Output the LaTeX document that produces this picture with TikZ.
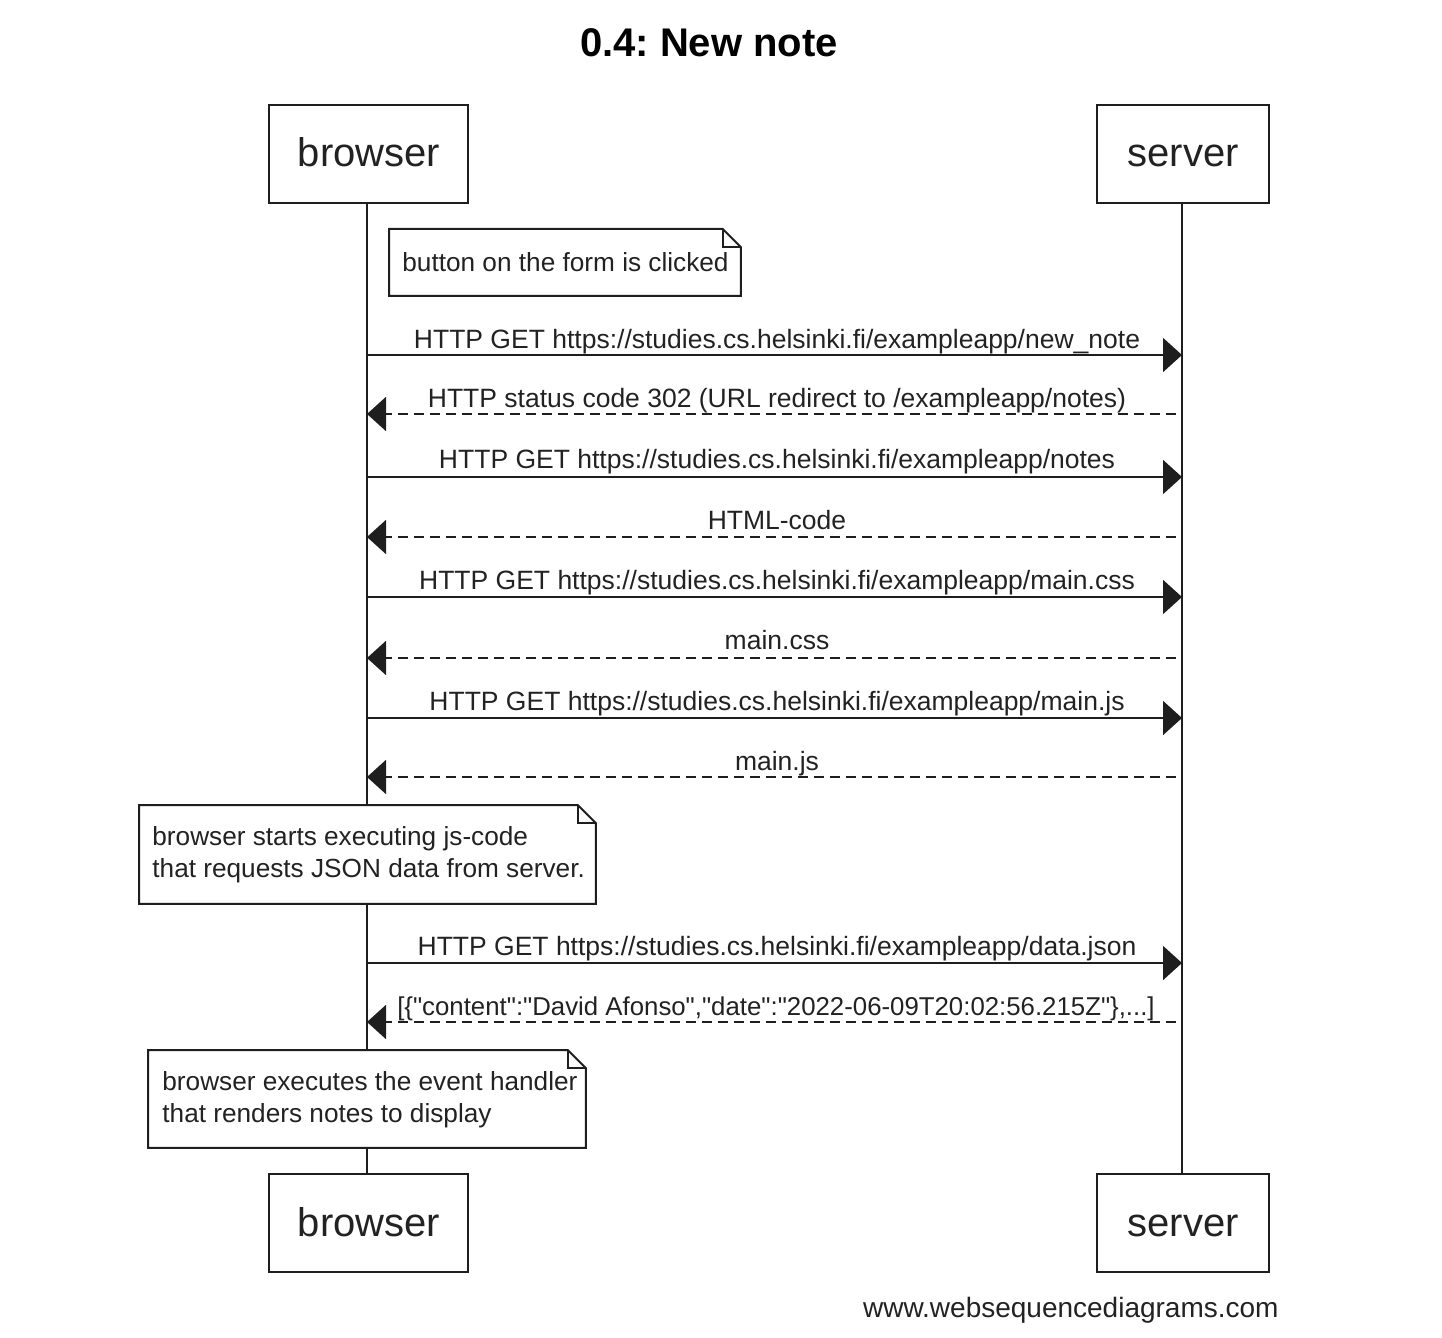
\documentclass[tikz,border=0pt]{standalone}
\usepackage{fontspec}
\setmainfont{Liberation Sans}[Mapping=]
\usetikzlibrary{arrows.meta}
\frenchspacing
\definecolor{ink}{RGB}{34,34,34}
\definecolor{linec}{RGB}{30,30,30}
\newcommand{\dq}{\symbol{34}}
\tikzset{
  actor/.style={draw=linec, line width=1pt, fill=white, minimum width=#1, minimum height=49pt, inner sep=0pt},
  actortext/.style={anchor=base, text=ink, font=\fontsize{20}{24}\selectfont, inner sep=0pt},
  lifeline/.style={draw=linec, line width=1pt},
  msg/.style={draw=linec, line width=0.9pt, -{Triangle[length=9.5pt, width=17pt]}},
  reply/.style={msg, dash pattern=on 5pt off 3pt},
  lbl/.style={anchor=base, text=ink, font=\fontsize{13.25}{16}\selectfont, inner sep=0pt},
  notebox/.style={draw=none, minimum width=#1, inner sep=0pt},
  notetext/.style={anchor=base west, align=left, text=ink, font=\fontsize{13.1}{16}\selectfont, inner sep=0pt},
  noteline/.style={draw=linec, line width=1pt, fill=white, line join=miter},
}
\newcommand{\notedraw}[1]{%
  \draw[noteline] (#1.north west) -- ([xshift=-9pt]#1.north east) -- ([yshift=-9pt]#1.north east) -- (#1.south east) -- (#1.south west) -- cycle;
  \draw[draw=linec, line width=0.8pt] ([xshift=-9pt]#1.north east) -- ([xshift=-9pt,yshift=-9pt]#1.north east) -- ([yshift=-9pt]#1.north east);
}
\begin{document}
\begin{tikzpicture}[x=0.5pt, y=-0.5pt]
\useasboundingbox (0,0) rectangle (1442,1338);
% title
\node[anchor=base, text=black, font=\bfseries\fontsize{20}{24}\selectfont, inner sep=0pt] (title) at (709,57) {0.4: New note};
% actors
\node[actor=99.5pt, anchor=north west] (btop) at (268,104) {};
\node[actor=86pt, anchor=north west] (stop) at (1096,104) {};
\node[actor=99.5pt, anchor=north west] (bbot) at (268,1173) {};
\node[actor=86pt, anchor=north west] (sbot) at (1096,1173) {};
\node[actortext] (btopt) at (369,167) {browser};
\node[actortext] (stopt) at (1183,167) {server};
\node[actortext] (bbott) at (369,1236) {browser};
\node[actortext] (sbott) at (1183,1236) {server};
% lifelines
\coordinate (bl0) at (367,202);
\coordinate (bl1) at (367,1173);
\coordinate (sl0) at (1182,202);
\coordinate (sl1) at (1182,1173);
\draw[lifeline] (bl0) -- (bl1);
\draw[lifeline] (sl0) -- (sl1);
% note 1
\node[notebox=175.5pt, minimum height=33pt, anchor=north west] (n1) at (389,229) {};
\notedraw{n1}
\node[notetext] (n1t) at (402,271) {button on the form is clicked};
% messages
\foreach \i/\y in {1/355,2/414,3/477,4/537,5/597,6/658,7/718,8/777,9/963,10/1022} {
  \coordinate (b\i) at (367,\y);
  \coordinate (s\i) at (1182,\y);
  \coordinate (r\i) at (1176,\y);
}
\draw[msg] (b1) -- (s1);
\node[lbl] (l1) at (777,348) {HTTP GET https://studies.cs.helsinki.fi/exampleapp/new\_note};
\draw[reply] (r2) -- (b2);
\node[lbl] (l2) at (777,407) {HTTP status code 302 (URL redirect to /exampleapp/notes)};
\draw[msg] (b3) -- (s3);
\node[lbl] (l3) at (777,468) {HTTP GET https://studies.cs.helsinki.fi/exampleapp/notes};
\draw[reply] (r4) -- (b4);
\node[lbl] (l4) at (777,529) {HTML-code};
\draw[msg] (b5) -- (s5);
\node[lbl] (l5) at (777,589) {HTTP GET https://studies.cs.helsinki.fi/exampleapp/main.css};
\draw[reply] (r6) -- (b6);
\node[lbl] (l6) at (777,649) {main.css};
\draw[msg] (b7) -- (s7);
\node[lbl] (l7) at (777,710) {HTTP GET https://studies.cs.helsinki.fi/exampleapp/main.js};
\draw[reply] (r8) -- (b8);
\node[lbl] (l8) at (777,770) {main.js};
% note 2
\node[notebox=228pt, minimum height=49pt, anchor=north west] (n2) at (139,805) {};
\notedraw{n2}
\node[notetext] (n2t) at (152,877) {browser starts executing js-code\\that requests JSON data from server.};
\draw[msg] (b9) -- (s9);
\node[lbl] (l9) at (777,955) {HTTP GET https://studies.cs.helsinki.fi/exampleapp/data.json};
\draw[reply] (r10) -- (b10);
\node[lbl, font=\fontsize{12.9}{16}\selectfont] (l10) at (776,1015) {[\{\dq content\dq:\dq David Afonso\dq,\dq date\dq:\dq 2022-06-09T20:02:56.215Z\dq\},...]};
% note 3
\node[notebox=218.5pt, minimum height=48.5pt, anchor=north west] (n3) at (148,1050) {};
\notedraw{n3}
\node[notetext] (n3t) at (162,1122) {browser executes the event handler\\that renders notes to display};
% footer
\node[anchor=base east, text=ink, font=\fontsize{14}{17}\selectfont, inner sep=0pt] (foot) at (1279,1317) {www.websequencediagrams.com};
\end{tikzpicture}
\end{document}
